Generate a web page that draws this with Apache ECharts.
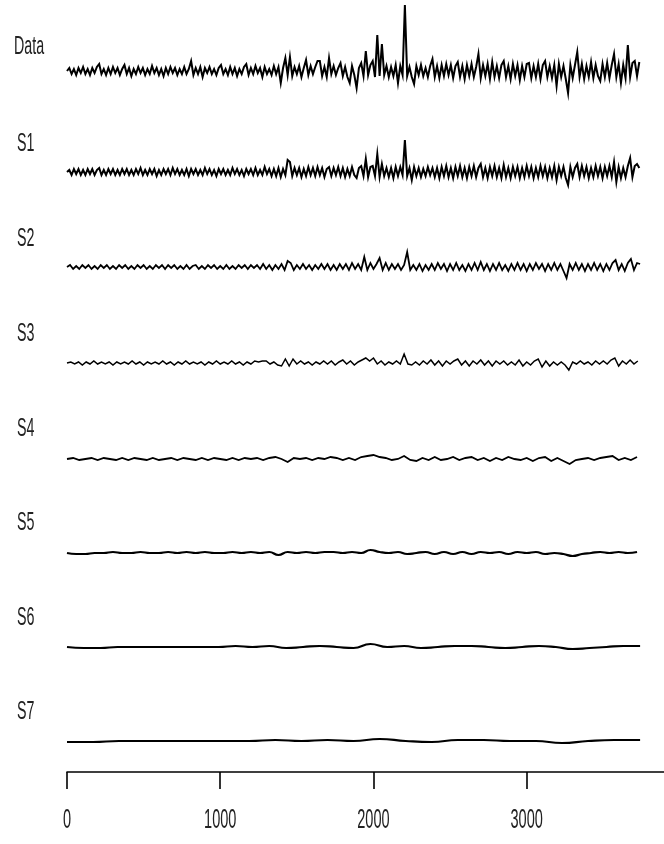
<!DOCTYPE html>
<html>
<head>
<meta charset="utf-8">
<script src="https://cdn.jsdelivr.net/npm/echarts@6/dist/echarts.min.js"></script>
<style>
html, body { margin: 0; padding: 0; background: #fff; }
#main { width: 664px; height: 844px; }
</style>
</head>
<body>
<div id="main"></div>
<script>
// series names and sampling step (x units between two read values)
var names = ['Data', 'S1', 'S2', 'S3', 'S4', 'S5', 'S6', 'S7'];
var steps = [15, 15, 20, 25, 40, 60, 110, 170];
var tickValues = [0, 1000, 2000, 3000];

// values, relative to each trace's own baseline
var dataVals = [
  0, 3, -3, 2, -4, 3, -2, 4, -3, 2,
  -4, 3, -2, 4, 7, -3, 2, -4, 3, -3,
  4, -2, 3, -4, 2, 6, -3, 3, -5, 2,
  -3, 4, -2, 3, -4, 2, -3, 5, -2, 3,
  -4, 2, -5, 3, -3, 4, -2, 3, -4, 2,
  -3, 4, -3, 2, 10, -4, 3, -3, 4, -6,
  3, -2, 4, -3, 2, -4, 3, 6, -3, 2,
  -4, 4, -3, 3, -5, 2, -3, 4, 7, -4,
  3, -3, 5, -2, 3, -6, 4, -3, 2, -4,
  5, -3, 4, -12, 3, 13, -4, 14, -5, 4,
  -3, 5, -6, 3, 11, -4, 5, -3, 4, 10,
  10, -5, 4, -6, 13, -3, 5, -4, 3, 8,
  -5, 4, -6, -12, 5, -4, -17, 3, 8, -5,
  20, -4, 6, 10, -6, 36, -5, 27, -4, 5,
  -6, 4, -5, 6, -12, 5, -4, 66, -5, 4,
  -6, -13, 5, -4, 6, -5, 3, -6, 5, 12,
  -6, 5, -7, 6, -5, 7, -4, 6, -7, 5,
  9, -6, 5, -8, 6, -5, 7, -6, 4, 17,
  -7, 6, -5, 7, -8, 9, -6, 5, -7, 6,
  10, -6, 5, -8, 7, -5, 6, -9, 5, -6,
  7, 8, -7, 5, -6, 7, -8, 6, 10, -6,
  5, -7, 6, -15, 7, -6, 5, -8, -22, 6,
  -7, 6, 19, -6, 7, -8, 5, -6, 9, -7,
  6, -5, -10, 7, -6, 8, -7, 6, 17, -6,
  7, -12, 6, -7, 26, -6, 8, 10, -5, 9
];
var s1Vals = [
  0, 2, -3, 3, -2, 3, -3, 2, -3, 3,
  -2, 3, -3, 2, 4, -3, 2, -3, 3, -2,
  3, -3, 2, -3, 3, -2, 3, -3, 2, -3,
  3, -2, 4, -3, 2, -3, 3, -2, 3, -4,
  2, -3, 3, -2, 3, -3, 4, -2, 3, -3,
  2, -3, 3, -4, 3, -2, 3, -3, 2, -3,
  4, -2, 3, -3, 2, -4, 3, -2, 3, -3,
  2, -3, 4, -2, 3, -3, 2, -4, 3, -2,
  3, -3, 4, -3, 2, -3, 5, -2, 3, -4,
  3, -4, 4, -5, 3, -3, 12, 10, -4, 4,
  -3, 4, -5, 3, -4, 5, -3, 4, -4, 5,
  -3, 4, -5, 3, 5, -4, 4, -3, 5, -4,
  4, -5, 3, -4, 5, -3, -6, 4, 6, -4,
  13, -5, 5, 6, -4, 18, -5, 8, -4, 4,
  -5, 4, -6, 5, -4, 5, -3, 32, -4, 4,
  -8, 5, -4, 4, -5, 3, -4, 5, -3, 4,
  -5, 4, -6, 5, -4, 6, -5, 4, -6, 5,
  -4, 6, -5, 4, -6, 5, -4, 6, -5, 4,
  8, -5, 4, -6, 5, -4, 6, -5, 4, -6,
  7, -5, 4, -6, 5, -4, 5, -6, 4, -5,
  6, -4, 5, -6, 4, -5, 6, -4, 5, -6,
  4, -5, 6, -8, 5, -4, 5, -6, -13, 5,
  -5, 4, 8, -5, 6, -4, 5, -6, 4, -5,
  6, -4, 5, -6, 5, -4, 6, -5, 10, -10,
  5, -6, 4, -5, 6, 14, -5, 6, 8, 4
];
var s2Vals = [
  0, 2, -2, 1, -2, 2, -1, 2, -2, 1,
  -2, 2, -1, 2, -2, 1, -2, 2, -1, 2,
  -2, 1, -2, 2, -1, 2, -2, 1, -2, 2,
  -1, 2, -2, 2, -1, 2, -2, 1, -2, 2,
  -2, 1, 2, -2, 1, -2, 2, -1, 2, -2,
  1, -2, 2, -2, 1, -2, 2, -1, 2, -2,
  2, -1, 2, -2, 3, -2, 2, -3, 2, -2,
  3, -3, 6, 4, -3, 2, -2, 3, -2, 2,
  -3, 2, -2, 3, -2, 3, -3, 2, -3, 3,
  -2, 3, -3, 4, -2, 3, -3, 10, -3, 4,
  -2, 3, 9, -3, 4, -3, 3, -2, 3, -3,
  2, 15, -3, 2, -3, 3, -4, 2, -3, 3,
  -3, 4, -2, 3, -4, 3, -3, 4, -3, 2,
  -4, 3, -3, 4, -3, 5, -3, 3, -4, 3,
  -3, 4, -3, 2, -4, 3, -3, 4, -3, 3,
  -4, 3, -3, 4, -2, 3, -4, 3, -3, 4,
  -3, 3, -4, -11, 3, -3, 4, -3, 3, -4,
  3, -3, 4, -3, 3, -4, 3, -3, 4, 7,
  -3, 3, -4, 4, 8, -3, 4, 3
];
var s3Vals = [
  0, 1, -1, 1, -2, 1, -1, 2, -1, 1,
  -1, 1, -2, 1, -1, 1, -1, 2, -1, 1,
  -2, 1, -1, 1, -1, 2, -1, 1, -2, 1,
  -1, 2, -1, 1, -1, 1, -2, 1, -1, 2,
  -1, 1, -1, 2, -1, 1, -2, 1, -1, 2,
  1, 2, 2, -1, 1, -2, -3, 4, -3, 4,
  -1, 2, -1, 1, -2, 1, -1, 2, -1, 2,
  -2, 1, 3, -1, 2, -2, 1, 3, 5, 2,
  5, -1, 2, -2, 1, -1, 2, -1, 9, -1,
  -2, 1, -2, 2, -1, 3, -2, 2, -3, 2,
  -1, 2, 4, -2, 2, -3, 2, -1, 3, -2,
  2, -3, 2, -1, 2, -2, 1, -2, 3, -3,
  1, -2, 2, 4, -4, 2, -3, 1, -2, 1,
  -2, -7, 1, -1, 2, -1, 1, -2, 2, -1,
  2, -1, 3, 5, -3, 2, -1, 3, -1, 2
];
var s4Vals = [
  0, 1, -1, 0, 1, -1, 1, 0, -1, 1,
  -1, 1, 0, -1, 1, -1, 0, 1, -1, 1,
  0, -1, 1, -1, 1, 0, -1, 1, -1, 1,
  0, 1, -1, 1, 2, 0, -3, 1, 0, 1,
  -1, 1, 0, 2, 1, -1, 1, -1, 2, 3,
  4, 2, 1, -1, 0, 3, -1, -2, 1, -1,
  2, -1, 0, 2, -1, 1, 2, -1, 1, -2,
  1, -1, 2, 0, -1, 1, -2, 1, 2, -2,
  1, -2, -5, -1, 0, 1, -1, 1, 2, 3,
  -1, 1, -1, 2
];
var s5Vals = [
  0, -1, -1, 0, 0, 1, 0, 0, 1, 0,
  0, 1, 0, 1, 0, 1, 0, 0, 1, 0,
  1, 0, 1, -2, 1, 0, 1, 0, 1, 1,
  0, 1, 0, 3, 1, 0, 1, -1, 0, 1,
  -1, 1, -1, 1, -1, 1, 0, 1, -1, 1,
  0, 1, -1, 0, -1, -3, -1, 0, 1, 0,
  1, 0, 1
];
var s6Vals = [
  0, -1, -1, 0, 0, 0, 0, 0, 0, 0,
  1, 0, 1, -1, 0, 1, 0, -1, 3, 0,
  1, -1, 0, 1, 1, 0, -1, 0, 1, 0,
  -2, -1, 0, 1, 1
];
var s7Vals = [
  -1, -1, 0, 0, 0, 0, 0, 0, 1, 0,
  1, 0, 2, 0, -1, 1, 1, 0, 0, -2,
  0, 1, 1
];

var allVals = [dataVals, s1Vals, s2Vals, s3Vals, s4Vals, s5Vals, s6Vals, s7Vals];
var baselines = [71, 172, 267, 363, 459, 553, 647, 741];
var labelTops = [35, 132, 227, 322, 417, 511, 606, 700];
var lineWidths = [2, 2, 1.8, 1.5, 1.8, 2.2, 2.2, 2.2];
var xMax = 3896;
var labelFont = '25px "Liberation Sans", Arial, sans-serif';
var tickFont = '28px "Liberation Sans", Arial, sans-serif';

var grids = [], xAxes = [], yAxes = [], series = [], graphics = [];

for (var k = 0; k < names.length; k++) {
    grids.push({ left: 67, right: 0, top: baselines[k] - 70, height: 100 });
    xAxes.push({ type: 'value', gridIndex: k, min: 0, max: xMax, show: false });
    yAxes.push({ type: 'value', gridIndex: k, min: -30, max: 70, show: false });
    var pts = [];
    for (var i = 0; i < allVals[k].length; i++) {
        pts.push([i * steps[k], allVals[k][i]]);
    }
    series.push({
        name: names[k],
        type: 'line',
        xAxisIndex: k,
        yAxisIndex: k,
        data: pts,
        symbol: 'none',
        smooth: k >= 5 ? 0.5 : false,
        lineStyle: { color: '#000', width: lineWidths[k], join: 'miter' },
        silent: true
    });
    // panel titles, squeezed like the narrow font of the original
    graphics.push({
        type: 'text',
        x: k == 0 ? 14 : 17,
        y: labelTops[k],
        scaleX: 0.57,
        style: { text: names[k], font: labelFont, fill: '#222', verticalAlign: 'top' }
    });
}

// bottom axis
grids.push({ left: 67, right: 0, top: 771, height: 1 });
xAxes.push({
    type: 'value', gridIndex: 8, min: 0, max: xMax,
    axisLine: { show: true, lineStyle: { color: '#000', width: 1.6 } },
    axisTick: { show: true, customValues: tickValues, length: 17, lineStyle: { color: '#000', width: 1.6 } },
    axisLabel: { show: false },
    splitLine: { show: false }
});
yAxes.push({ type: 'value', gridIndex: 8, show: false });

var myChart = echarts.init(document.getElementById('main'));
myChart.setOption({
    animation: false,
    backgroundColor: '#fff',
    grid: grids,
    xAxis: xAxes,
    yAxis: yAxes,
    series: series,
    graphic: graphics
});

// tick labels in the same narrow look, placed by the bottom axis scale
for (var t = 0; t < tickValues.length; t++) {
    var px = myChart.convertToPixel({ xAxisIndex: 8 }, tickValues[t]);
    graphics.push({
        type: 'text',
        x: px,
        y: 806,
        scaleX: 0.52,
        style: { text: String(tickValues[t]), font: tickFont, fill: '#222', align: 'center', verticalAlign: 'top' }
    });
}
myChart.setOption({ graphic: graphics });
</script>
</body>
</html>
